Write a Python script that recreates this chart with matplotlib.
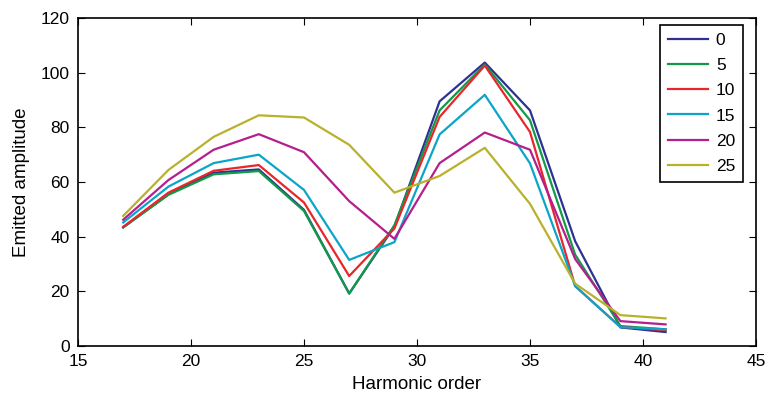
import matplotlib
matplotlib.use('Agg')
import matplotlib.pyplot as plt

plt.rcParams['font.family'] = ['Liberation Sans', 'DejaVu Sans']

# Harmonic orders
orders = [17, 19, 21, 23, 25, 27, 29, 31, 33, 35, 37, 39, 41]

# Emitted amplitude for each series
amp_0 = [43.4, 55.5, 63.4, 64.6, 49.8, 19.2, 43.7, 89.5, 103.7, 86.2, 38.3, 6.8, 5.1]
amp_5 = [43.4, 55.3, 62.8, 64.0, 49.4, 19.2, 44.2, 86.2, 103.0, 82.6, 33.4, 7.3, 6.1]
amp_10 = [43.6, 56.1, 64.1, 66.2, 52.5, 25.6, 43.0, 83.8, 102.6, 78.3, 21.9, 7.0, 5.8]
amp_15 = [45.2, 58.3, 66.9, 70.0, 57.1, 31.5, 38.0, 77.4, 91.9, 66.8, 21.9, 6.9, 6.1]
amp_20 = [46.2, 60.7, 71.8, 77.5, 70.9, 53.0, 39.2, 66.9, 78.1, 71.8, 31.8, 9.1, 7.9]
amp_25 = [47.6, 64.4, 76.5, 84.4, 83.6, 73.6, 56.1, 62.2, 72.5, 52.0, 22.8, 11.3, 10.1]

labels = ['0', '5', '10', '15', '20', '25']
colors = ['#2e3192', '#119a48', '#e8262b', '#0aa5c8', '#b41f8e', '#b9b12c']
series = [amp_0, amp_5, amp_10, amp_15, amp_20, amp_25]

fig = plt.figure(figsize=(7.68, 4.03), dpi=100)
ax = fig.add_axes([78 / 768, 1 - 346 / 403, 678 / 768, 328 / 403])

for vals, lab, col in zip(series, labels, colors):
    ax.plot(orders, vals, color=col, lw=1.6, label=lab)

ax.set_xlim(15, 45)
ax.set_ylim(0, 120)
ax.set_xticks(range(15, 46, 5))
ax.set_yticks(range(0, 121, 20))
ax.tick_params(direction='in', length=5, labelsize=12.5, top=True, right=True, pad=6)
for s in ax.spines.values():
    s.set_linewidth(1.2)

ax.set_xlabel('Harmonic order', fontsize=13.5, labelpad=5)
ax.set_ylabel('Emitted amplitude', fontsize=13.5, labelpad=8)

leg = ax.legend(loc='upper right', bbox_to_anchor=(0.981, 0.979), borderaxespad=0,
                fontsize=12.5, fancybox=False, framealpha=1, edgecolor='black',
                handlelength=2.3, handletextpad=0.45, labelspacing=0.58, borderpad=0.45)
leg.get_frame().set_linewidth(1.2)

fig.savefig('out.png', dpi=100)
